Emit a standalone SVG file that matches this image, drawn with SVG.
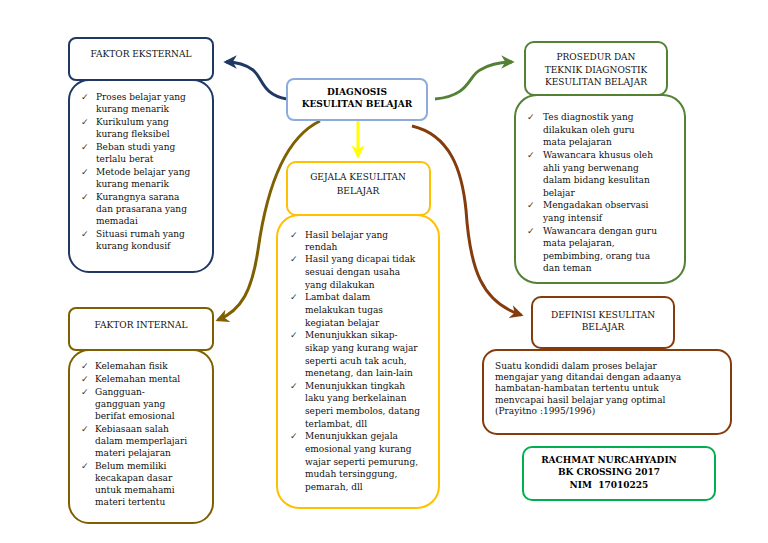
<svg xmlns="http://www.w3.org/2000/svg" width="768" height="543" viewBox="0 0 768 543">
<style>
.t{font-family:"DejaVu Serif","Liberation Serif",serif;font-size:9px;fill:#111}
.h{font-family:"DejaVu Serif","Liberation Serif",serif;font-size:9px;fill:#111;text-anchor:middle}
.b{font-family:"DejaVu Serif","Liberation Serif",serif;font-size:9px;font-weight:bold;fill:#000;text-anchor:middle}
.ck{font-family:"DejaVu Sans",sans-serif;font-size:9px;fill:#333}
.box{fill:#fff;stroke-width:2}
.c{fill:none;stroke-width:3}
</style>
<defs>
<marker id="mNavy" viewBox="0 0 10 10" refX="8" refY="5" markerWidth="4.5" markerHeight="4.5" orient="auto"><path d="M0,0 L10,5 L0,10 L3,5 z" fill="#1f3864"/></marker>
<marker id="mGreen" viewBox="0 0 10 10" refX="8" refY="5" markerWidth="4.5" markerHeight="4.5" orient="auto"><path d="M0,0 L10,5 L0,10 L3,5 z" fill="#548235"/></marker>
<marker id="mYellow" viewBox="0 0 10 10" refX="8" refY="5" markerWidth="4.5" markerHeight="4.5" orient="auto"><path d="M0,0 L10,5 L0,10 L3,5 z" fill="#ffff00"/></marker>
<marker id="mOlive" viewBox="0 0 10 10" refX="8" refY="5" markerWidth="4.5" markerHeight="4.5" orient="auto"><path d="M0,0 L10,5 L0,10 L3,5 z" fill="#7f6000"/></marker>
<marker id="mBrown" viewBox="0 0 10 10" refX="8" refY="5" markerWidth="4.5" markerHeight="4.5" orient="auto"><path d="M0,0 L10,5 L0,10 L3,5 z" fill="#843c0c"/></marker>
</defs>
<rect width="768" height="543" fill="#fff"/>

<g id="connectors">
<path class="c" stroke="#1f3864" d="M287,99 C262,95 263,78 253,70 C245,64 236,62 226,62" marker-end="url(#mNavy)"/>
<path class="c" stroke="#548235" d="M435,99 C470,96 468,76 480,70 C490,64 500,62 512,62" marker-end="url(#mGreen)"/>
<path class="c" stroke="#ffff00" d="M358,121 L358,156" marker-end="url(#mYellow)"/>
<path class="c" stroke="#7f6000" d="M320,121 C280,140 265,200 258,250 C252,290 242,310 218,320" marker-end="url(#mOlive)"/>
<path class="c" stroke="#843c0c" d="M412,126 C450,135 462,170 466,210 C470,270 482,302 521,315" marker-end="url(#mBrown)"/>
</g>

<g id="diagnosis">
<rect class="box" x="287" y="79" width="140" height="41" rx="7" stroke="#8faadc"/>
<text class="b" x="357" y="95">DIAGNOSIS</text>
<text class="b" x="357" y="107">KESULITAN BELAJAR</text>
</g>

<g id="faktor-eksternal">
<rect class="box" x="69" y="38" width="144" height="42" rx="7" stroke="#1f3864"/>
<text class="h" x="141" y="57">FAKTOR EKSTERNAL</text>
</g>
<g id="faktor-eksternal-list">
<rect class="box" x="69" y="80" width="144" height="192" rx="20" stroke="#1f3864"/>
<text class="ck" x="81" y="100">✓</text><text class="t" x="96" y="100">Proses belajar yang</text>
<text class="t" x="96" y="112">kurang menarik</text>
<text class="ck" x="81" y="125">✓</text><text class="t" x="96" y="125">Kurikulum yang</text>
<text class="t" x="96" y="137">kurang fleksibel</text>
<text class="ck" x="81" y="150">✓</text><text class="t" x="96" y="150">Beban studi yang</text>
<text class="t" x="96" y="162">terlalu berat</text>
<text class="ck" x="81" y="175">✓</text><text class="t" x="96" y="175">Metode belajar yang</text>
<text class="t" x="96" y="187">kurang menarik</text>
<text class="ck" x="81" y="200">✓</text><text class="t" x="96" y="200">Kurangnya sarana</text>
<text class="t" x="96" y="212">dan prasarana yang</text>
<text class="t" x="96" y="224">memadai</text>
<text class="ck" x="81" y="237">✓</text><text class="t" x="96" y="237">Situasi rumah yang</text>
<text class="t" x="96" y="249">kurang kondusif</text>
</g>

<g id="faktor-internal">
<rect class="box" x="69" y="308" width="144" height="42" rx="7" stroke="#7f6000"/>
<text class="h" x="141" y="328">FAKTOR INTERNAL</text>
</g>
<g id="faktor-internal-list">
<rect class="box" x="69" y="350" width="144" height="173" rx="20" stroke="#7f6000"/>
<text class="ck" x="81" y="369">✓</text><text class="t" x="95" y="369">Kelemahan fisik</text>
<text class="ck" x="81" y="382">✓</text><text class="t" x="95" y="382">Kelemahan mental</text>
<text class="ck" x="81" y="395">✓</text><text class="t" x="95" y="395">Gangguan-</text>
<text class="t" x="95" y="407">gangguan yang</text>
<text class="t" x="95" y="419">berifat emosional</text>
<text class="ck" x="81" y="432">✓</text><text class="t" x="95" y="432">Kebiasaan salah</text>
<text class="t" x="95" y="444">dalam memperlajari</text>
<text class="t" x="95" y="456">materi pelajaran</text>
<text class="ck" x="81" y="469">✓</text><text class="t" x="95" y="469">Belum memiliki</text>
<text class="t" x="95" y="481">kecakapan dasar</text>
<text class="t" x="95" y="493">untuk memahami</text>
<text class="t" x="95" y="505">materi tertentu</text>
</g>

<g id="gejala">
<rect class="box" x="287" y="162" width="143" height="53" rx="9" stroke="#ffc000"/>
<text class="h" x="358" y="180">GEJALA KESULITAN</text>
<text class="h" x="358" y="194">BELAJAR</text>
</g>
<g id="gejala-list">
<rect class="box" x="277" y="215" width="162" height="293" rx="22" stroke="#ffc000"/>
<text class="ck" x="290" y="238">✓</text><text class="t" x="305" y="238">Hasil belajar yang</text>
<text class="t" x="305" y="250">rendah</text>
<text class="ck" x="290" y="262">✓</text><text class="t" x="305" y="262">Hasil yang dicapai tidak</text>
<text class="t" x="305" y="275">sesuai dengan usaha</text>
<text class="t" x="305" y="288">yang dilakukan</text>
<text class="ck" x="290" y="300">✓</text><text class="t" x="305" y="300">Lambat dalam</text>
<text class="t" x="305" y="313">melakukan tugas</text>
<text class="t" x="305" y="326">kegiatan belajar</text>
<text class="ck" x="290" y="338">✓</text><text class="t" x="305" y="338">Menunjukkan sikap-</text>
<text class="t" x="305" y="351">sikap yang kurang wajar</text>
<text class="t" x="305" y="364">seperti acuh tak acuh,</text>
<text class="t" x="305" y="376">menetang, dan lain-lain</text>
<text class="ck" x="290" y="389">✓</text><text class="t" x="305" y="389">Menunjukkan tingkah</text>
<text class="t" x="305" y="401">laku yang berkelainan</text>
<text class="t" x="305" y="414">seperi membolos, datang</text>
<text class="t" x="305" y="427">terlambat, dll</text>
<text class="ck" x="290" y="439">✓</text><text class="t" x="305" y="439">Menunjukkan gejala</text>
<text class="t" x="305" y="452">emosional yang kurang</text>
<text class="t" x="305" y="465">wajar seperti pemurung,</text>
<text class="t" x="305" y="477">mudah tersinggung,</text>
<text class="t" x="305" y="490">pemarah, dll</text>
</g>

<g id="prosedur">
<rect class="box" x="525" y="42" width="142" height="53" rx="9" stroke="#548235"/>
<text class="h" x="596" y="60">PROSEDUR DAN</text>
<text class="h" x="596" y="73">TEKNIK DIAGNOSTIK</text>
<text class="h" x="596" y="85">KESULITAN BELAJAR</text>
</g>
<g id="prosedur-list">
<rect class="box" x="515" y="95" width="170" height="188" rx="22" stroke="#548235"/>
<text class="ck" x="527" y="120">✓</text><text class="t" x="543" y="120">Tes diagnostik yang</text>
<text class="t" x="543" y="133">dilakukan oleh guru</text>
<text class="t" x="543" y="145">mata pelajaran</text>
<text class="ck" x="527" y="158">✓</text><text class="t" x="543" y="158">Wawancara khusus oleh</text>
<text class="t" x="543" y="171">ahli yang berwenang</text>
<text class="t" x="543" y="183">dalam bidang kesulitan</text>
<text class="t" x="543" y="196">belajar</text>
<text class="ck" x="527" y="208">✓</text><text class="t" x="543" y="208">Mengadakan observasi</text>
<text class="t" x="543" y="221">yang intensif</text>
<text class="ck" x="527" y="234">✓</text><text class="t" x="543" y="234">Wawancara dengan guru</text>
<text class="t" x="543" y="246">mata pelajaran,</text>
<text class="t" x="543" y="259">pembimbing, orang tua</text>
<text class="t" x="543" y="271">dan teman</text>
</g>

<g id="definisi">
<rect class="box" x="532" y="297" width="142" height="51" rx="9" stroke="#843c0c"/>
<text class="h" x="603" y="318">DEFINISI KESULITAN</text>
<text class="h" x="603" y="330">BELAJAR</text>
</g>
<g id="definisi-text">
<rect class="box" x="483" y="350" width="248" height="84" rx="14" stroke="#843c0c"/>
<text class="t" x="495" y="369">Suatu kondidi dalam proses belajar</text>
<text class="t" x="495" y="380">mengajar yang ditandai dengan adaanya</text>
<text class="t" x="495" y="391">hambatan-hambatan tertentu untuk</text>
<text class="t" x="495" y="403">menvcapai hasil belajar yang optimal</text>
<text class="t" x="495" y="414">(Prayitno :1995/1996)</text>
</g>

<g id="author">
<rect class="box" x="523" y="447" width="192" height="53" rx="9" stroke="#00b050"/>
<text class="b" x="609" y="463">RACHMAT NURCAHYADIN</text>
<text class="b" x="609" y="475">BK CROSSING 2017</text>
<text class="b" x="609" y="488" xml:space="preserve">NIM  17010225</text>
</g>
</svg>
